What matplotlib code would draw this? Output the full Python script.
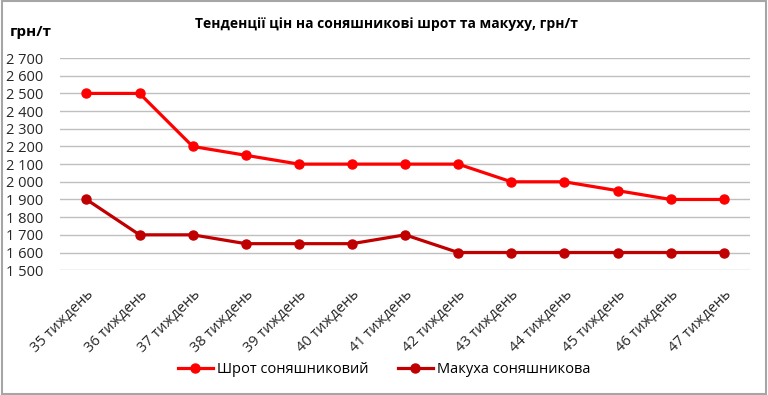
import matplotlib.pyplot as plt
from matplotlib.ticker import FuncFormatter
from matplotlib.patches import Rectangle

plt.rcParams['font.family'] = ['Open Sans', 'DejaVu Sans']

# data
weeks = ['35 тиждень', '36 тиждень', '37 тиждень', '38 тиждень', '39 тиждень',
         '40 тиждень', '41 тиждень', '42 тиждень', '43 тиждень', '44 тиждень',
         '45 тиждень', '46 тиждень', '47 тиждень']
shrot = [2500, 2500, 2200, 2150, 2100, 2100, 2100, 2100, 2000, 2000, 1950, 1900, 1900]
makukha = [1900, 1700, 1700, 1650, 1650, 1650, 1700, 1600, 1600, 1600, 1600, 1600, 1600]

fig = plt.figure(figsize=(7.68, 3.95), dpi=100)
ax = fig.add_axes([0.078, 0.316, 0.899, 0.537])

x = range(len(weeks))
ax.plot(x, shrot, color='#FF0000', lw=2.3, marker='o', ms=6.5, label='Шрот соняшниковий')
ax.plot(x, makukha, color='#C00000', lw=2.3, marker='o', ms=6.5, label='Макуха соняшникова')

ax.set_xlim(-0.5, len(weeks) - 0.5)
ax.set_ylim(1500, 2700)
ax.set_yticks(range(1500, 2701, 100))
ax.yaxis.set_major_formatter(FuncFormatter(lambda v, p: f'{int(v):,}'.replace(',', ' ')))
ax.set_xticks(list(x))
ax.set_xticklabels(weeks, rotation=45, ha='right', rotation_mode='anchor')
ax.tick_params(axis='both', length=0, colors='#262626')
ax.tick_params(axis='y', labelsize=10.5, pad=12)
ax.tick_params(axis='x', labelsize=10.5, pad=12)
ax.grid(axis='y', color='#BFBFBF', lw=1)
ax.set_axisbelow(True)
for s in ax.spines.values():
    s.set_visible(False)

fig.text(0.503, 0.94, 'Тенденції цін на соняшникові шрот та макуху, грн/т',
         ha='center', va='center', fontsize=10, fontweight='bold')
fig.text(0.013, 0.92, 'грн/т', ha='left', va='center', fontsize=11, fontweight='bold')

fig.legend(loc='center', bbox_to_anchor=(0.5, 0.065), ncol=2, frameon=False,
           fontsize=10.5, handlelength=2.4, columnspacing=2.0, handletextpad=0.3)

fig.patches.append(Rectangle((0.002, 0.003), 0.996, 0.994, transform=fig.transFigure,
                             fill=False, edgecolor='#A6A6A6', lw=1.5))

fig.savefig('out.png', dpi=100)
